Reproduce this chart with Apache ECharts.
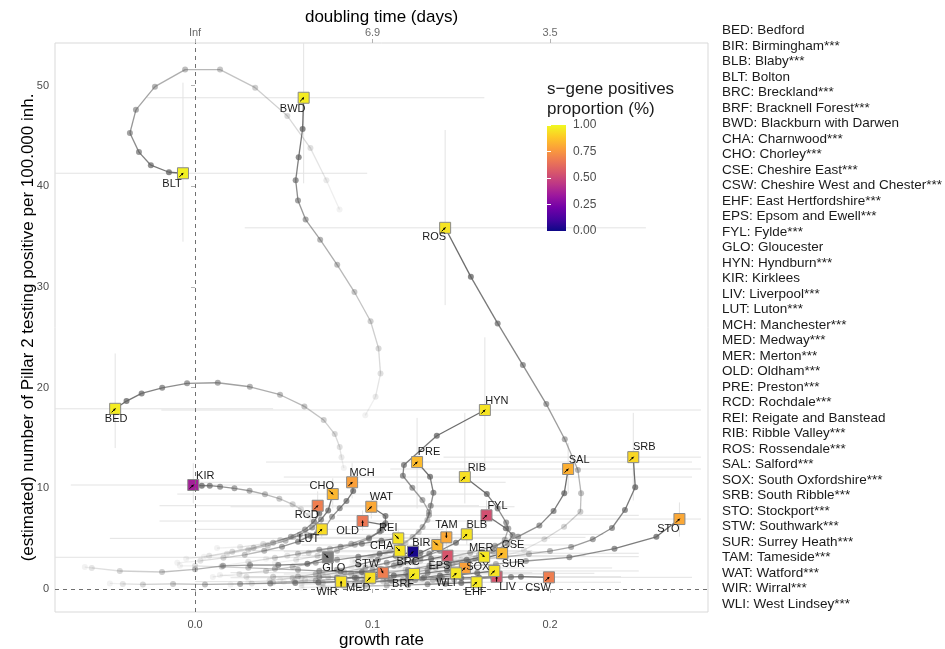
<!DOCTYPE html>
<html>
<head>
<meta charset="utf-8">
<script src="https://cdn.jsdelivr.net/npm/echarts@6/dist/echarts.min.js"></script>
<style>
html, body { margin: 0; padding: 0; background: #fff; }
#chart { width: 945px; height: 649px; }
</style>
</head>
<body>
<div id="chart"></div>
<script>
// Local authorities: short code, full name
const codes = ['BED','BIR','BLB','BLT','BRC','BRF','BWD','CHA','CHO','CSE','CSW','EHF','EPS','FYL','GLO','HYN','KIR','LIV','LUT','MCH','MED','MER','OLD','PRE','RCD','REI','RIB','ROS','SAL','SOX','SRB','STO','STW','SUR','TAM','WAT','WIR','WLI'];
const names = ['Bedford','Birmingham***','Blaby***','Bolton','Breckland***','Bracknell Forest***','Blackburn with Darwen','Charnwood***','Chorley***','Cheshire East***','Cheshire West and Chester***','East Hertfordshire***','Epsom and Ewell***','Fylde***','Gloucester','Hyndburn***','Kirklees','Liverpool***','Luton***','Manchester***','Medway***','Merton***','Oldham***','Preston***','Rochdale***','Reigate and Banstead','Ribble Valley***','Rossendale***','Salford***','South Oxfordshire***','South Ribble***','Stockport***','Southwark***','Surrey Heath***','Tameside***','Watford***','Wirral***','West Lindsey***'];

// s-gene positives proportion at the latest day (null = not available)
const sgene = [0.97,0.84,0.95,0.98,0.02,0.96,0.97,0.95,0.84,0.85,0.68,0.96,0.55,0.53,null,0.95,0.36,0.55,0.93,0.78,0.94,0.96,0.66,0.85,0.68,0.95,0.94,0.95,0.82,0.78,0.92,0.80,0.68,0.95,0.80,0.80,0.94,0.96];

// direction of the latest trend arrow (degrees, counter-clockwise from +x)
const trendDir = [45,-45,45,45,45,45,45,-45,-45,45,45,45,45,45,-45,45,45,90,45,45,45,-45,90,45,45,-45,45,45,45,45,45,45,-65,45,-90,45,90,45];

// confidence intervals at the latest day
const growthLow  = [-0.09,0.06,0.08,-0.09,0.05,0.05,-0.027,0.03,-0.01,0.10,0.12,0.08,0.06,0.08,-0.09,-0.019,-0.07,0.10,0.0,0.0,0.02,0.08,-0.02,0.04,-0.02,-0.048,0.05,0.028,0.11,0.07,0.14,0.20,0.02,0.09,0.06,0.02,0.0,0.07];
const growthHigh = [0.044,0.215,0.23,0.097,0.20,0.20,0.163,0.19,0.165,0.25,0.28,0.24,0.22,0.25,0.15,0.285,0.07,0.24,0.14,0.175,0.18,0.25,0.17,0.28,0.16,0.20,0.28,0.254,0.285,0.235,0.285,0.285,0.19,0.25,0.22,0.18,0.16,0.225];
const incLow  = [14.0,3.6,4.4,34.5,3.0,1.0,40.3,3.2,8.0,2.9,0.7,0.3,2.6,6.0,2.5,12.0,8.5,0.9,5.0,9.0,0.7,2.5,5.8,8.0,7.0,4.2,8.5,28.2,9.5,1.6,8.8,5.2,1.1,1.3,4.2,7.0,0.4,1.1];
const incHigh = [23.4,5.2,6.6,50.3,4.5,2.0,56.0,4.5,11.0,4.3,1.7,1.1,4.1,8.8,3.9,25.0,12.5,1.6,7.0,12.5,1.6,4.0,7.8,17.0,9.7,6.0,17.5,45.6,14.5,2.7,17.5,8.6,2.2,2.3,6.2,9.5,1.1,2.1];

// daily trajectories [growth rate, incidence], oldest first, last = latest day
const BED = [[0.0838,12.02],[0.0825,13.08],[0.0815,14.1],[0.0787,15.39],[0.0725,16.78],[0.0616,18.14],[0.0479,19.3],[0.0309,20.09],[0.0128,20.49],[-0.0045,20.43],[-0.0185,19.99],[-0.0301,19.43],[-0.0386,18.67],[-0.045,17.9]];
const BIR = [[0.048,0.9],[0.060,1.1],[0.072,1.4],[0.084,1.7],[0.096,2.1],[0.108,2.6],[0.118,3.1],[0.127,3.6],[0.1365,4.37]];
const BLB = [[0.080,1.3],[0.092,1.6],[0.104,2.0],[0.116,2.5],[0.127,3.1],[0.138,3.8],[0.147,4.6],[0.1531,5.43]];
const BLT = [[0.0814,37.7],[0.0740,40.6],[0.0650,43.8],[0.0520,47.0],[0.0339,49.8],[0.0141,51.6],[-0.0056,51.6],[-0.0226,49.9],[-0.0333,47.6],[-0.0367,45.3],[-0.0316,43.4],[-0.0249,42.1],[-0.0147,41.4],[-0.0068,41.3]];
const BRC = [[0.030,0.7],[0.042,0.85],[0.055,1.1],[0.068,1.5],[0.080,1.9],[0.092,2.4],[0.103,2.9],[0.113,3.3],[0.1228,3.7]];
const BRF = [[0.020,0.45],[0.032,0.55],[0.044,0.65],[0.056,0.75],[0.068,0.85],[0.080,0.95],[0.091,1.1],[0.102,1.2],[0.112,1.35],[0.1234,1.49]];
const BWD = [[0.0959,17.25],[0.1017,19.1],[0.1045,21.4],[0.1034,23.9],[0.0989,26.6],[0.0898,29.5],[0.0801,32.2],[0.0705,34.7],[0.0623,36.7],[0.0580,38.6],[0.0567,40.6],[0.0584,42.9],[0.0606,45.7],[0.0612,48.8]];
const CHA = [[0.010,1.2],[0.025,1.5],[0.040,1.8],[0.055,2.2],[0.068,2.6],[0.080,2.9],[0.092,3.2],[0.104,3.5],[0.1153,3.8]];
const CHO = [[0.005,3.2],[0.018,3.5],[0.030,3.9],[0.041,4.3],[0.051,4.8],[0.059,5.4],[0.066,6.1],[0.071,6.9],[0.075,7.8],[0.0776,9.43]];
const CSE = [[0.080,0.6],[0.093,0.8],[0.106,1.1],[0.119,1.5],[0.131,1.9],[0.143,2.3],[0.154,2.7],[0.164,3.1],[0.173,3.55]];
const CSW = [[0.095,0.75],[0.108,0.8],[0.121,0.85],[0.134,0.9],[0.146,0.95],[0.158,1.0],[0.168,1.1],[0.178,1.2],[0.1836,1.22],[0.1994,1.16]];
const EHF = [[0.060,0.15],[0.072,0.2],[0.084,0.25],[0.096,0.3],[0.108,0.35],[0.120,0.4],[0.131,0.47],[0.141,0.53],[0.150,0.6],[0.1586,0.67]];
const EPS = [[0.050,0.7],[0.062,0.9],[0.075,1.2],[0.088,1.5],[0.100,1.9],[0.112,2.3],[0.123,2.7],[0.133,3.0],[0.1422,3.31]];
const FYL = [[0.120,1.8],[0.132,2.1],[0.145,2.5],[0.158,3.0],[0.168,3.7],[0.176,4.5],[0.1789,5.36],[0.1751,6.03],[0.1642,7.32]];
const GLO = [[-0.0621,2.18],[-0.0582,2.09],[-0.0424,1.79],[-0.0186,1.69],[0.0,1.95],[0.0158,2.3],[0.031,2.38],[0.0469,2.38],[0.0633,2.5],[0.0748,3.15]];
const HYN = [[0.0904,2.68],[0.1,3.18],[0.1102,3.77],[0.1186,4.57],[0.126,5.66],[0.1309,6.85],[0.1318,7.68],[0.1281,8.84],[0.1224,10.06],[0.1171,11.25],[0.1177,12.31],[0.1362,15.22],[0.1633,17.78]];
const KIR = [[0.066,6.7],[0.064,7.3],[0.0597,7.91],[0.0550,8.41],[0.0475,8.97],[0.0394,9.40],[0.0307,9.76],[0.0222,10.0],[0.0141,10.16],[0.0083,10.26],[0.0038,10.26],[-0.001,10.33]];
const LIV = [[0.060,0.6],[0.072,0.65],[0.085,0.7],[0.098,0.75],[0.111,0.8],[0.124,0.9],[0.137,1.0],[0.150,1.1],[0.160,1.15],[0.1699,1.22]];
const LUT = [[-0.010,2.6],[0.003,2.8],[0.016,3.1],[0.028,3.4],[0.039,3.8],[0.049,4.2],[0.058,4.7],[0.065,5.3],[0.0714,5.93]];
const MCH = [[0.0124,4.07],[0.0254,4.17],[0.0384,4.47],[0.048,4.87],[0.0554,5.16],[0.0631,5.4],[0.0688,5.56],[0.0725,5.86],[0.0772,7.18],[0.0815,8.01],[0.0853,8.74],[0.0891,9.73],[0.0885,10.6]];
const MED = [[0.014,1.39],[0.029,1.22],[0.044,1.22],[0.058,1.25],[0.070,1.2],[0.080,1.15],[0.090,1.13],[0.0987,1.12]];
const MER = [[0.070,0.8],[0.082,1.0],[0.095,1.3],[0.108,1.6],[0.120,1.9],[0.132,2.3],[0.143,2.6],[0.153,2.9],[0.1629,3.21]];
const OLD = [[0.045,2.6],[0.057,2.9],[0.069,3.3],[0.080,3.8],[0.090,4.4],[0.098,5.0],[0.104,5.7],[0.1064,6.36],[0.0944,6.75]];
const PRE = [[0.0887,2.78],[0.0989,3.18],[0.1073,3.67],[0.1158,4.37],[0.1226,5.16],[0.1282,6.16],[0.1318,7.35],[0.1328,8.27],[0.1343,9.56],[0.1324,11.15],[0.1251,12.61]];
const RCD = [[-0.005,3.0],[0.008,3.3],[0.021,3.7],[0.033,4.1],[0.044,4.6],[0.054,5.2],[0.062,5.9],[0.067,6.7],[0.070,7.5],[0.0691,8.27]];
const REI = [[0.015,2.3],[0.030,2.7],[0.045,3.1],[0.058,3.5],[0.070,3.9],[0.082,4.2],[0.094,4.5],[0.105,4.8],[0.1145,5.03]];
const RIB = [[0.125,2.2],[0.138,2.5],[0.150,2.9],[0.160,3.4],[0.168,4.0],[0.1745,4.9],[0.1765,6.0],[0.1753,6.6],[0.1705,8.0],[0.1644,9.43],[0.152,11.12]];
const ROS = [[0.1723,3.18],[0.1853,3.87],[0.1968,4.94],[0.2079,6.19],[0.2171,7.68],[0.2175,9.5],[0.2157,11.82],[0.2083,14.87],[0.1979,18.37],[0.1847,22.24],[0.1705,26.38],[0.1554,31.01],[0.1409,35.88]];
const SAL = [[0.088,2.2],[0.100,2.4],[0.113,2.6],[0.127,2.8],[0.141,3.1],[0.155,3.6],[0.169,4.3],[0.182,5.2],[0.194,6.3],[0.202,7.75],[0.208,9.5],[0.2102,11.92]];
const SOX = [[0.060,0.4],[0.072,0.55],[0.084,0.7],[0.096,0.9],[0.108,1.1],[0.120,1.35],[0.131,1.6],[0.142,1.85],[0.152,2.09]];
const SRB = [[0.1186,2.38],[0.1328,2.58],[0.1469,2.78],[0.161,2.98],[0.1751,3.18],[0.1881,3.48],[0.2,3.77],[0.2119,4.17],[0.2241,4.94],[0.2349,6.06],[0.2422,7.85],[0.248,10.1],[0.2469,13.1]];
const STO = [[0.0847,1.59],[0.1017,1.69],[0.1186,1.89],[0.1356,2.09],[0.1525,2.28],[0.1695,2.48],[0.1864,2.78],[0.2109,3.15],[0.2363,4.0],[0.2599,5.19],[0.2729,6.95]];
const STW = [[-0.0085,2.3],[0.0,2.3],[0.015,2.2],[0.030,2.1],[0.045,2.0],[0.058,1.9],[0.070,1.8],[0.082,1.75],[0.094,1.7],[0.1058,1.62]];
const SUR = [[0.085,0.5],[0.095,0.6],[0.106,0.75],[0.117,0.9],[0.128,1.05],[0.139,1.2],[0.149,1.4],[0.159,1.6],[0.1686,1.79]];
const TAM = [[0.085,1.5],[0.095,1.7],[0.105,2.0],[0.115,2.4],[0.124,2.9],[0.132,3.5],[0.138,4.2],[0.1416,5.13]];
const WAT = [[0.040,3.0],[0.052,3.3],[0.064,3.6],[0.076,4.0],[0.088,4.5],[0.098,5.1],[0.105,5.8],[0.1073,6.52],[0.1073,7.25],[0.0993,8.17]];
const WIR = [[-0.048,0.55],[-0.0407,0.5],[-0.0294,0.45],[-0.0124,0.5],[0.0056,0.45],[0.0254,0.5],[0.0424,0.55],[0.0565,0.6],[0.0695,0.65],[0.0823,0.73]];
const WLI = [[0.070,0.3],[0.080,0.4],[0.090,0.55],[0.100,0.7],[0.110,0.85],[0.120,1.0],[0.129,1.15],[0.138,1.35],[0.1471,1.56]];

const tracks = [BED,BIR,BLB,BLT,BRC,BRF,BWD,CHA,CHO,CSE,CSW,EHF,EPS,FYL,GLO,HYN,KIR,LIV,LUT,MCH,MED,MER,OLD,PRE,RCD,REI,RIB,ROS,SAL,SOX,SRB,STO,STW,SUR,TAM,WAT,WIR,WLI];

// axis ticks
const growthTicks = [0, 0.1, 0.2];
const incidenceTicks = [0, 10, 20, 30, 40, 50];
const proportionTicks = [0, 0.25, 0.5, 0.75, 1];

// ---- layout (pixels) ----
const labelShift = {
  BED:[1,10], BIR:[-16,-2], BLB:[10,-9], BLT:[-11,11], BRC:[-5,10], BRF:[-11,10], BWD:[-11,11],
  CHA:[-18,-5], CHO:[-11,-8], CSE:[11,-8], CSW:[-11,11], EHF:[-1,10], EPS:[-8,10], FYL:[11,-9],
  GLO:[6,11], HYN:[12,-9], KIR:[12,-9], LIV:[11,10], LUT:[-13,10], MCH:[10,-9], MED:[-12,10],
  MER:[-3,-9], OLD:[-15,10], PRE:[12,-10], RCD:[-11,9], REI:[-10,-10], RIB:[12,-9], ROS:[-11,9],
  SAL:[11,-9], SOX:[13,-1], SRB:[11,-10], STO:[-11,10], STW:[-16,-9], SUR:[19,-7], TAM:[0,-12],
  WAT:[10,-10], WIR:[-14,10], WLI:[-10,10]
};
const FONT = '"Liberation Sans", Arial, sans-serif';
const X_MIN = -0.0789, X_MAX = 0.289;
const Y_MIN = -2.285, Y_MAX = 54.24;
const TRACK_RGB = '96,96,96';

// plasma colour scale
const plasmaStops = ['#0d0887','#46039f','#7201a8','#9c179e','#bd3786','#d8576b','#ed7953','#fb9f3a','#fdca26','#f0f921'];
function hexToRgb(h) { return [1,3,5].map(i => parseInt(h.substr(i,2),16)); }
function plasma(t) {
  if (t === null || t === undefined) return '#7f7f7f';
  const n = plasmaStops.length - 1;
  const s = Math.max(0, Math.min(n - 1e-9, t * n));
  const i = Math.floor(s), f = s - i;
  const a = hexToRgb(plasmaStops[i]), b = hexToRgb(plasmaStops[i + 1]);
  const c = a.map((v, k) => Math.round(v + (b[k] - v) * f));
  return 'rgb(' + c.join(',') + ')';
}

// build series data
const ciData = codes.map((c, i) => {
  const last = tracks[i][tracks[i].length - 1];
  return [last[0], last[1], growthLow[i], growthHigh[i], incLow[i], incHigh[i]];
});
const segData = [];
const pointData = [];
tracks.forEach(tr => {
  const n = tr.length;
  tr.forEach((p, j) => {
    const a = 0.1 + 0.9 * (j / (n - 1));
    if (j < n - 1) {
      const q = tr[j + 1];
      segData.push([p[0], p[1], q[0], q[1], a]);
      pointData.push({ value: [p[0], p[1]], itemStyle: { color: 'rgba(' + TRACK_RGB + ',' + a.toFixed(3) + ')' } });
    }
  });
});
const latestData = codes.map((c, i) => {
  const last = tracks[i][tracks[i].length - 1];
  return [last[0], last[1], i];
});

const chart = echarts.init(document.getElementById('chart'), null, { renderer: 'canvas' });

const option = {
  animation: false,
  backgroundColor: '#ffffff',
  textStyle: { fontFamily: FONT },
  grid: [
    { left: 55, top: 43, width: 653, height: 569, containLabel: false, outerBoundsMode: 'none',
      show: true, borderColor: '#d9d9d9', borderWidth: 1, backgroundColor: 'transparent' },
    { left: 547, top: 125, width: 19, height: 106, containLabel: false, outerBoundsMode: 'none', show: false }
  ],
  xAxis: [
    {
      gridIndex: 0, type: 'value', position: 'bottom', min: X_MIN, max: X_MAX,
      name: 'growth rate', nameLocation: 'middle', nameGap: 20, nameMoveOverlap: false,
      nameTextStyle: { fontSize: 17, color: '#000', fontFamily: FONT },
      axisLine: { show: false },
      axisTick: { show: true, length: 4, customValues: growthTicks, lineStyle: { color: '#b3b3b3' } },
      axisLabel: { customValues: growthTicks, formatter: v => v.toFixed(1), color: '#4d4d4d', fontSize: 11, margin: 7, fontFamily: FONT },
      splitLine: { show: false }
    },
    {
      gridIndex: 0, type: 'value', position: 'top', min: X_MIN, max: X_MAX,
      name: 'doubling time (days)', nameLocation: 'middle', nameGap: 17, nameMoveOverlap: false,
      nameTextStyle: { fontSize: 17, color: '#000', fontFamily: FONT },
      axisLine: { show: false },
      axisTick: { show: true, length: 4, customValues: growthTicks, lineStyle: { color: '#b3b3b3' } },
      axisLabel: {
        customValues: growthTicks,
        formatter: v => (Math.abs(v) < 1e-12 ? 'Inf' : (Math.LN2 / v).toFixed(1)),
        color: '#6b6b6b', fontSize: 11, margin: 5, fontFamily: '"Liberation Sans Narrow", ' + FONT
      },
      splitLine: { show: false }
    },
    { gridIndex: 1, type: 'value', min: 0, max: 1, show: false }
  ],
  yAxis: [
    {
      gridIndex: 0, type: 'value', min: Y_MIN, max: Y_MAX,
      name: '(estimated) number of Pillar 2 testing positive per 100.000 inh.',
      nameLocation: 'middle', nameGap: 18, nameRotate: 90, nameMoveOverlap: false,
      nameTextStyle: { fontSize: 17, color: '#000', fontFamily: FONT },
      axisLine: { show: false },
      axisTick: { show: true, length: 4, customValues: incidenceTicks, lineStyle: { color: '#b3b3b3' } },
      axisLabel: { customValues: incidenceTicks, color: '#4d4d4d', fontSize: 11, margin: 6, fontFamily: FONT },
      splitLine: { show: false }
    },
    {
      gridIndex: 1, type: 'value', min: 0, max: 1, position: 'right', z: 10,
      axisLine: { show: false },
      axisTick: { show: true, inside: true, length: 4, customValues: proportionTicks, lineStyle: { color: '#ffffff', width: 1 } },
      axisLabel: { customValues: proportionTicks, formatter: v => v.toFixed(2), color: '#4d4d4d', fontSize: 12, margin: 7, fontFamily: FONT },
      splitLine: { show: false }
    },
    {
      gridIndex: 1, type: 'value', min: 0, max: 1, position: 'left', z: 10,
      axisLine: { show: false },
      axisTick: { show: true, inside: true, length: 4, customValues: proportionTicks, lineStyle: { color: '#ffffff', width: 1 } },
      axisLabel: { show: false },
      splitLine: { show: false }
    }
  ],
  graphic: [
    {
      type: 'text', left: 722, top: 23, silent: true,
      style: {
        text: codes.map((c, i) => c + ': ' + names[i]).join('\n'),
        font: '13.5px ' + FONT, lineHeight: 15.5, fill: '#1a1a1a'
      }
    },
    {
      type: 'text', left: 547, top: 79, silent: true,
      style: { text: 's\u2212gene positives\nproportion (%)', font: '17px ' + FONT, lineHeight: 20, fill: '#1a1a1a' }
    }
  ],
  series: [
    // confidence intervals
    {
      type: 'custom', name: 'ci', xAxisIndex: 0, yAxisIndex: 0, clip: true, silent: true, z: 1,
      data: ciData,
      renderItem: (params, api) => {
        const x = api.value(0), y = api.value(1);
        const h1 = api.coord([api.value(2), y]), h2 = api.coord([api.value(3), y]);
        const v1 = api.coord([x, api.value(4)]), v2 = api.coord([x, api.value(5)]);
        const st = { stroke: '#e3e3e3', lineWidth: 1, fill: null };
        return {
          type: 'group', children: [
            { type: 'line', shape: { x1: h1[0], y1: h1[1], x2: h2[0], y2: h2[1] }, style: st },
            { type: 'line', shape: { x1: v1[0], y1: v1[1], x2: v2[0], y2: v2[1] }, style: st }
          ]
        };
      },
      markLine: {
        silent: true, symbol: ['none', 'none'], label: { show: false },
        lineStyle: { color: '#707070', width: 1, type: [4, 4] },
        data: [{ xAxis: 0 }, { yAxis: 0 }]
      }
    },
    // trajectory segments
    {
      type: 'custom', name: 'paths', xAxisIndex: 0, yAxisIndex: 0, clip: true, silent: true, z: 2,
      data: segData,
      renderItem: (params, api) => {
        const p = api.coord([api.value(0), api.value(1)]);
        const q = api.coord([api.value(2), api.value(3)]);
        return {
          type: 'line', shape: { x1: p[0], y1: p[1], x2: q[0], y2: q[1] },
          style: { stroke: 'rgba(' + TRACK_RGB + ',' + api.value(4) + ')', lineWidth: 1.3, fill: null }
        };
      }
    },
    // daily points
    {
      type: 'scatter', name: 'days', xAxisIndex: 0, yAxisIndex: 0, silent: true, z: 3,
      symbol: 'circle', symbolSize: 6,
      data: pointData
    },
    // latest day: coloured square with trend arrow
    {
      type: 'custom', name: 'latest', xAxisIndex: 0, yAxisIndex: 0, clip: false, silent: true, z: 4,
      data: latestData,
      renderItem: (params, api) => {
        const i = params.dataIndex;
        const c = api.coord([api.value(0), api.value(1)]);
        const s = 11;
        const ang = trendDir[i] * Math.PI / 180;
        const dx = Math.cos(ang), dy = -Math.sin(ang);
        const len = 5;
        const tail = [c[0] - dx * len, c[1] - dy * len];
        const px = -dy, py = dx;
        const head = [c[0] + dx * 0.5, c[1] + dy * 0.5];
        const hb = [head[0] - dx * 2.2, head[1] - dy * 2.2];
        return {
          type: 'group', children: [
            { type: 'rect', shape: { x: c[0] - s / 2, y: c[1] - s / 2, width: s, height: s },
              style: { fill: plasma(sgene[i]), stroke: '#8a8a8a', lineWidth: 1 } },
            { type: 'line', shape: { x1: tail[0], y1: tail[1], x2: head[0], y2: head[1] },
              style: { stroke: '#000', lineWidth: 1, fill: null } },
            { type: 'polygon', shape: { points: [head, [hb[0] + px * 1.3, hb[1] + py * 1.3], [hb[0] - px * 1.3, hb[1] - py * 1.3]] },
              style: { fill: '#000' } }
          ]
        };
      }
    },
    // area labels
    {
      type: 'custom', name: 'labels', xAxisIndex: 0, yAxisIndex: 0, clip: false, silent: true, z: 5,
      data: latestData,
      renderItem: (params, api) => {
        const i = params.dataIndex;
        const c = api.coord([api.value(0), api.value(1)]);
        const sh = labelShift[codes[i]] || [0, -10];
        return {
          type: 'text', x: c[0] + sh[0], y: c[1] + sh[1],
          style: { text: codes[i], font: '11px ' + FONT, fill: '#1a1a1a', align: 'center', verticalAlign: 'middle' }
        };
      }
    },
    // colour bar
    {
      type: 'custom', name: 'colorbar', xAxisIndex: 2, yAxisIndex: 1, silent: true, z: 2,
      data: [[0, 0]],
      renderItem: (params, api) => {
        const p0 = api.coord([0, 0]), p1 = api.coord([1, 1]);
        return {
          type: 'rect',
          shape: { x: p0[0], y: p1[1], width: p1[0] - p0[0], height: p0[1] - p1[1] },
          style: {
            fill: new echarts.graphic.LinearGradient(0, 1, 0, 0,
              plasmaStops.map((col, k) => ({ offset: k / (plasmaStops.length - 1), color: col })))
          }
        };
      }
    }
  ]
};

chart.setOption(option);
</script>
</body>
</html>
